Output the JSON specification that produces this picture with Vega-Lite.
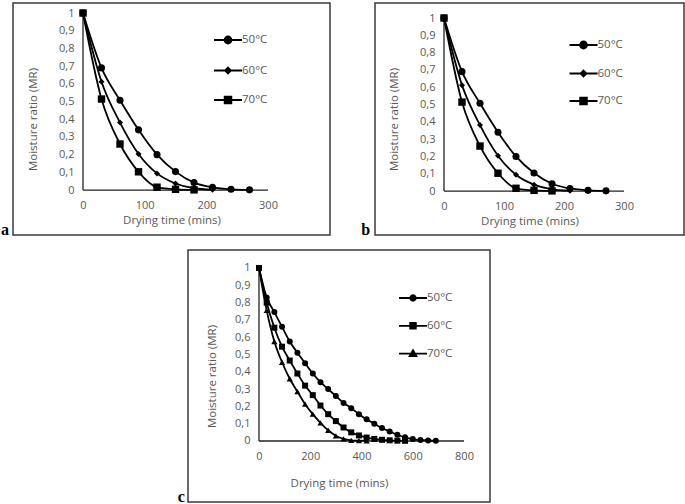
{
  "$schema": "https://vega.github.io/schema/vega-lite/v6.json",
  "padding": {"left": 0, "top": 2, "right": 0, "bottom": 0},
  "background": "white",
  "config": {
    "view": {"stroke": "#3a3a3a", "strokeWidth": 1.5},
    "axis": {"grid": false, "domain": false, "ticks": false, "tickSize": 0, "labelFont": "Open Sans", "labelFontSize": 11, "labelColor": "#595959", "titleFont": "Open Sans", "titleFontSize": 11.5, "titleFontWeight": "normal", "titleColor": "#595959", "labelFlush": false, "labelOverlap": false, "labelBound": false},
    "legend": {"labelFont": "Open Sans", "labelFontSize": 11.5, "labelColor": "#595959", "padding": 0, "symbolStrokeWidth": 1.8}
  },
  "datasets": {
    "ab": [
      {"t": 0, "mr": 1, "temp": "50°C"}, {"t": 30, "mr": 0.69, "temp": "50°C"}, {"t": 60, "mr": 0.507, "temp": "50°C"}, {"t": 90, "mr": 0.34, "temp": "50°C"}, {"t": 120, "mr": 0.2, "temp": "50°C"}, {"t": 150, "mr": 0.104, "temp": "50°C"}, {"t": 180, "mr": 0.042, "temp": "50°C"}, {"t": 210, "mr": 0.015, "temp": "50°C"}, {"t": 240, "mr": 0.004, "temp": "50°C"}, {"t": 270, "mr": 0.001, "temp": "50°C"},
      {"t": 0, "mr": 1, "temp": "60°C"}, {"t": 30, "mr": 0.612, "temp": "60°C"}, {"t": 60, "mr": 0.381, "temp": "60°C"}, {"t": 90, "mr": 0.204, "temp": "60°C"}, {"t": 120, "mr": 0.094, "temp": "60°C"}, {"t": 150, "mr": 0.037, "temp": "60°C"}, {"t": 180, "mr": 0.01, "temp": "60°C"}, {"t": 210, "mr": 0.002, "temp": "60°C"},
      {"t": 0, "mr": 1, "temp": "70°C"}, {"t": 30, "mr": 0.514, "temp": "70°C"}, {"t": 60, "mr": 0.26, "temp": "70°C"}, {"t": 90, "mr": 0.103, "temp": "70°C"}, {"t": 120, "mr": 0.016, "temp": "70°C"}, {"t": 150, "mr": 0.004, "temp": "70°C"}, {"t": 180, "mr": 0.001, "temp": "70°C"}
    ],
    "c": [
      {"t": 0, "mr": 1, "temp": "50°C"}, {"t": 30, "mr": 0.83, "temp": "50°C"}, {"t": 60, "mr": 0.745, "temp": "50°C"}, {"t": 90, "mr": 0.66, "temp": "50°C"}, {"t": 120, "mr": 0.575, "temp": "50°C"}, {"t": 150, "mr": 0.51, "temp": "50°C"}, {"t": 180, "mr": 0.45, "temp": "50°C"}, {"t": 210, "mr": 0.39, "temp": "50°C"}, {"t": 240, "mr": 0.34, "temp": "50°C"}, {"t": 270, "mr": 0.3, "temp": "50°C"}, {"t": 300, "mr": 0.26, "temp": "50°C"}, {"t": 330, "mr": 0.22, "temp": "50°C"}, {"t": 360, "mr": 0.19, "temp": "50°C"}, {"t": 390, "mr": 0.155, "temp": "50°C"}, {"t": 420, "mr": 0.125, "temp": "50°C"}, {"t": 450, "mr": 0.1, "temp": "50°C"}, {"t": 480, "mr": 0.075, "temp": "50°C"}, {"t": 510, "mr": 0.055, "temp": "50°C"}, {"t": 540, "mr": 0.036, "temp": "50°C"}, {"t": 570, "mr": 0.021, "temp": "50°C"}, {"t": 600, "mr": 0.011, "temp": "50°C"}, {"t": 630, "mr": 0.006, "temp": "50°C"}, {"t": 660, "mr": 0.003, "temp": "50°C"}, {"t": 690, "mr": 0.001, "temp": "50°C"},
      {"t": 0, "mr": 1, "temp": "60°C"}, {"t": 30, "mr": 0.8, "temp": "60°C"}, {"t": 60, "mr": 0.655, "temp": "60°C"}, {"t": 90, "mr": 0.545, "temp": "60°C"}, {"t": 120, "mr": 0.465, "temp": "60°C"}, {"t": 150, "mr": 0.39, "temp": "60°C"}, {"t": 180, "mr": 0.32, "temp": "60°C"}, {"t": 210, "mr": 0.265, "temp": "60°C"}, {"t": 240, "mr": 0.205, "temp": "60°C"}, {"t": 270, "mr": 0.155, "temp": "60°C"}, {"t": 300, "mr": 0.115, "temp": "60°C"}, {"t": 330, "mr": 0.078, "temp": "60°C"}, {"t": 360, "mr": 0.05, "temp": "60°C"}, {"t": 390, "mr": 0.032, "temp": "60°C"}, {"t": 420, "mr": 0.02, "temp": "60°C"}, {"t": 450, "mr": 0.012, "temp": "60°C"}, {"t": 480, "mr": 0.007, "temp": "60°C"}, {"t": 510, "mr": 0.004, "temp": "60°C"}, {"t": 540, "mr": 0.002, "temp": "60°C"}, {"t": 570, "mr": 0.001, "temp": "60°C"},
      {"t": 0, "mr": 1, "temp": "70°C"}, {"t": 30, "mr": 0.755, "temp": "70°C"}, {"t": 60, "mr": 0.575, "temp": "70°C"}, {"t": 90, "mr": 0.455, "temp": "70°C"}, {"t": 120, "mr": 0.36, "temp": "70°C"}, {"t": 150, "mr": 0.285, "temp": "70°C"}, {"t": 180, "mr": 0.213, "temp": "70°C"}, {"t": 210, "mr": 0.155, "temp": "70°C"}, {"t": 240, "mr": 0.105, "temp": "70°C"}, {"t": 270, "mr": 0.062, "temp": "70°C"}, {"t": 300, "mr": 0.03, "temp": "70°C"}, {"t": 330, "mr": 0.012, "temp": "70°C"}, {"t": 360, "mr": 0.004, "temp": "70°C"}, {"t": 390, "mr": 0.002, "temp": "70°C"}, {"t": 420, "mr": 0.001, "temp": "70°C"}
    ]
  },
  "spacing": 10,
  "resolve": {"scale": {"x": "independent", "y": "independent", "shape": "independent"}, "legend": {"shape": "independent"}},
  "vconcat": [
    {
      "hconcat": [
        {
          "width": 317, "height": 232,
          "data": {"name": "ab"},
          "title": {"text": "a", "orient": "left", "anchor": "start", "frame": "group", "angle": 0, "align": "right", "baseline": "alphabetic", "font": "Liberation Serif", "fontWeight": "bold", "fontSize": 16, "color": "black", "offset": -4},
          "layer": [
            {"data": {"values": [{}]}, "mark": {"type": "rule", "color": "#222", "strokeWidth": 1.3}, "encoding": {"x": {"datum": 0, "type": "quantitative", "scale": {"domain": [-113.5, 400.5], "nice": false, "zero": false}, "axis": {"values": [0, 100, 200, 300], "tickCount": 10, "offset": -45, "labelPadding": 9, "labelOverlap": false, "title": "Drying time (mins)", "titlePadding": 4}}, "y": {"datum": 0, "type": "quantitative", "scale": {"domain": [-0.254, 1.0565], "nice": false, "zero": false}, "axis": {"values": [0, 0.1, 0.2, 0.3, 0.4, 0.5, 0.6, 0.7, 0.8, 0.9, 1], "tickCount": 20, "offset": -70, "labelPadding": 9, "labelOverlap": false, "labelExpr": "replace(format(datum.value, '.1~f'), '.', ',')", "title": "Moisture ratio (MR)", "titlePadding": 20}}, "y2": {"datum": 1}}},
            {"data": {"values": [{}]}, "mark": {"type": "rule", "color": "#222", "strokeWidth": 1.3}, "encoding": {"y": {"datum": 0, "type": "quantitative"}, "x": {"datum": 0, "type": "quantitative"}, "x2": {"datum": 300}}},
            {"mark": {"type": "line", "interpolate": "monotone", "color": "black", "strokeWidth": 1.8}, "encoding": {"x": {"field": "t", "type": "quantitative"}, "y": {"field": "mr", "type": "quantitative"}, "detail": {"field": "temp"}}},
            {"transform": [{"filter": "datum.temp == '50°C'"}], "mark": {"type": "point", "shape": "circle", "filled": true, "color": "black", "opacity": 1, "size": 50}, "encoding": {"x": {"field": "t", "type": "quantitative"}, "y": {"field": "mr", "type": "quantitative"}}},
            {"transform": [{"filter": "datum.temp == '60°C'"}], "mark": {"type": "point", "shape": "diamond", "filled": true, "color": "black", "opacity": 1, "size": 36}, "encoding": {"x": {"field": "t", "type": "quantitative"}, "y": {"field": "mr", "type": "quantitative"}}},
            {"transform": [{"filter": "datum.temp == '70°C'"}], "mark": {"type": "point", "shape": "square", "filled": true, "color": "black", "opacity": 1, "size": 55}, "encoding": {"x": {"field": "t", "type": "quantitative"}, "y": {"field": "mr", "type": "quantitative"}}},
            {"data": {"values": []}, "mark": {"type": "point", "filled": false, "fill": "black", "stroke": "black", "strokeWidth": 1.8, "opacity": 1, "fillOpacity": 1, "strokeOpacity": 1}, "encoding": {"x": {"field": "t", "type": "quantitative"}, "y": {"field": "mr", "type": "quantitative"},
              "shape": {"field": "temp", "type": "nominal", "scale": {"domain": ["50°C", "60°C", "70°C"], "range": ["M-1,0H1M0.25,0A0.25,0.25,0,1,1,-0.25,0A0.25,0.25,0,1,1,0.25,0Z", "M-1,0H1M0,-0.21L0.21,0L0,0.21L-0.21,0Z", "M-1,0H1M-0.24,-0.24H0.24V0.24H-0.24Z"]},
                "legend": {"title": null, "orient": "none", "legendX": 200, "legendY": 22, "direction": "vertical", "symbolSize": 784, "rowPadding": 7.5, "labelOffset": -1, "symbolStrokeWidth": 1.8, "symbolOpacity": 1,
                  "encode": {"symbols": {"update": {"stroke": {"value": "black"}, "fill": {"value": "black"}, "strokeWidth": {"value": 1.8}}}}}}}}
          ]
        },
        {
          "width": 309, "height": 232,
          "data": {"name": "ab"},
          "title": {"text": "b", "orient": "left", "anchor": "start", "frame": "group", "angle": 0, "align": "right", "baseline": "alphabetic", "font": "Liberation Serif", "fontWeight": "bold", "fontSize": 16, "color": "black", "offset": -4},
          "layer": [
            {"data": {"values": [{}]}, "mark": {"type": "rule", "color": "#222", "strokeWidth": 1.3}, "encoding": {"x": {"datum": 0, "type": "quantitative", "scale": {"domain": [-115, 400], "nice": false, "zero": false}, "axis": {"values": [0, 100, 200, 300], "tickCount": 10, "offset": -44, "labelPadding": 9, "labelOverlap": false, "title": "Drying time (mins)", "titlePadding": 4}}, "y": {"datum": 0, "type": "quantitative", "scale": {"domain": [-0.254, 1.0867], "nice": false, "zero": false}, "axis": {"values": [0, 0.1, 0.2, 0.3, 0.4, 0.5, 0.6, 0.7, 0.8, 0.9, 1], "tickCount": 20, "offset": -69, "labelPadding": 9, "labelOverlap": false, "labelExpr": "replace(format(datum.value, '.1~f'), '.', ',')", "title": "Moisture ratio (MR)", "titlePadding": 20}}, "y2": {"datum": 1}}},
            {"data": {"values": [{}]}, "mark": {"type": "rule", "color": "#222", "strokeWidth": 1.3}, "encoding": {"y": {"datum": 0, "type": "quantitative"}, "x": {"datum": 0, "type": "quantitative"}, "x2": {"datum": 300}}},
            {"mark": {"type": "line", "interpolate": "monotone", "color": "black", "strokeWidth": 1.8}, "encoding": {"x": {"field": "t", "type": "quantitative"}, "y": {"field": "mr", "type": "quantitative"}, "detail": {"field": "temp"}}},
            {"transform": [{"filter": "datum.temp == '50°C'"}], "mark": {"type": "point", "shape": "circle", "filled": true, "color": "black", "opacity": 1, "size": 50}, "encoding": {"x": {"field": "t", "type": "quantitative"}, "y": {"field": "mr", "type": "quantitative"}}},
            {"transform": [{"filter": "datum.temp == '60°C'"}], "mark": {"type": "point", "shape": "diamond", "filled": true, "color": "black", "opacity": 1, "size": 36}, "encoding": {"x": {"field": "t", "type": "quantitative"}, "y": {"field": "mr", "type": "quantitative"}}},
            {"transform": [{"filter": "datum.temp == '70°C'"}], "mark": {"type": "point", "shape": "square", "filled": true, "color": "black", "opacity": 1, "size": 55}, "encoding": {"x": {"field": "t", "type": "quantitative"}, "y": {"field": "mr", "type": "quantitative"}}},
            {"data": {"values": []}, "mark": {"type": "point", "filled": false, "fill": "black", "stroke": "black", "strokeWidth": 1.8, "opacity": 1, "fillOpacity": 1, "strokeOpacity": 1}, "encoding": {"x": {"field": "t", "type": "quantitative"}, "y": {"field": "mr", "type": "quantitative"},
              "shape": {"field": "temp", "type": "nominal", "scale": {"domain": ["50°C", "60°C", "70°C"], "range": ["M-1,0H1M0.25,0A0.25,0.25,0,1,1,-0.25,0A0.25,0.25,0,1,1,0.25,0Z", "M-1,0H1M0,-0.21L0.21,0L0,0.21L-0.21,0Z", "M-1,0H1M-0.24,-0.24H0.24V0.24H-0.24Z"]},
                "legend": {"title": null, "orient": "none", "legendX": 193.5, "legendY": 27, "direction": "vertical", "symbolSize": 784, "rowPadding": 5.5, "labelOffset": -1, "symbolStrokeWidth": 1.8, "symbolOpacity": 1,
                  "encode": {"symbols": {"update": {"stroke": {"value": "black"}, "fill": {"value": "black"}, "strokeWidth": {"value": 1.8}}}}}}}}
          ]
        }
      ],
      "spacing": 29,
      "resolve": {"scale": {"x": "independent", "y": "independent", "shape": "independent"}, "legend": {"shape": "independent"}}
    },
    {
      "hconcat": [
        {"width": 164, "height": 10, "data": {"values": []}, "mark": {"type": "point", "opacity": 0}, "encoding": {}, "view": {"stroke": null}},
        {
          "width": 302, "height": 252,
          "data": {"name": "c"},
          "title": {"text": "c", "orient": "left", "anchor": "start", "frame": "group", "angle": 0, "align": "right", "baseline": "alphabetic", "font": "Liberation Serif", "fontWeight": "bold", "fontSize": 16, "color": "black", "offset": -4},
          "layer": [
            {"data": {"values": [{}]}, "mark": {"type": "rule", "color": "#222", "strokeWidth": 1.3}, "encoding": {"x": {"datum": 0, "type": "quantitative", "scale": {"domain": [-277, 901.5], "nice": false, "zero": false}, "axis": {"values": [0, 200, 400, 600, 800], "tickCount": 10, "offset": -61, "labelPadding": 9, "labelOverlap": false, "title": "Drying time (mins)", "titlePadding": 16}}, "y": {"datum": 0, "type": "quantitative", "scale": {"domain": [-0.3526, 1.104], "nice": false, "zero": false}, "axis": {"values": [0, 0.1, 0.2, 0.3, 0.4, 0.5, 0.6, 0.7, 0.8, 0.9, 1], "tickCount": 20, "offset": -71, "labelPadding": 9, "labelOverlap": false, "labelExpr": "replace(format(datum.value, '.1~f'), '.', ',')", "title": "Moisture ratio (MR)", "titlePadding": 17}}, "y2": {"datum": 1}}},
            {"data": {"values": [{}]}, "mark": {"type": "rule", "color": "#222", "strokeWidth": 1.3}, "encoding": {"y": {"datum": 0, "type": "quantitative"}, "x": {"datum": 0, "type": "quantitative"}, "x2": {"datum": 800}}},
            {"mark": {"type": "line", "interpolate": "monotone", "color": "black", "strokeWidth": 1.8}, "encoding": {"x": {"field": "t", "type": "quantitative"}, "y": {"field": "mr", "type": "quantitative"}, "detail": {"field": "temp"}}},
            {"transform": [{"filter": "datum.temp == '50°C'"}], "mark": {"type": "point", "shape": "circle", "filled": true, "color": "black", "opacity": 1, "size": 36}, "encoding": {"x": {"field": "t", "type": "quantitative"}, "y": {"field": "mr", "type": "quantitative"}}},
            {"transform": [{"filter": "datum.temp == '60°C'"}], "mark": {"type": "point", "shape": "square", "filled": true, "color": "black", "opacity": 1, "size": 36}, "encoding": {"x": {"field": "t", "type": "quantitative"}, "y": {"field": "mr", "type": "quantitative"}}},
            {"transform": [{"filter": "datum.temp == '70°C'"}], "mark": {"type": "point", "shape": "triangle-up", "filled": true, "color": "black", "opacity": 1, "size": 38}, "encoding": {"x": {"field": "t", "type": "quantitative"}, "y": {"field": "mr", "type": "quantitative"}}},
            {"data": {"values": []}, "mark": {"type": "point", "filled": false, "fill": "black", "stroke": "black", "strokeWidth": 1.8, "opacity": 1, "fillOpacity": 1, "strokeOpacity": 1}, "encoding": {"x": {"field": "t", "type": "quantitative"}, "y": {"field": "mr", "type": "quantitative"},
              "shape": {"field": "temp", "type": "nominal", "scale": {"domain": ["50°C", "60°C", "70°C"], "range": ["M-1,0H1M0.2,0A0.2,0.2,0,1,1,-0.2,0A0.2,0.2,0,1,1,0.2,0Z", "M-1,0H1M-0.2,-0.2H0.2V0.2H-0.2Z", "M-1,0H1M0,-0.24L0.24,0.17L-0.24,0.17Z"]},
                "legend": {"title": null, "orient": "none", "legendX": 210, "legendY": 33, "direction": "vertical", "symbolSize": 784, "rowPadding": 5.8, "labelOffset": -1, "symbolStrokeWidth": 1.8, "symbolOpacity": 1,
                  "encode": {"symbols": {"update": {"stroke": {"value": "black"}, "fill": {"value": "black"}, "strokeWidth": {"value": 1.8}}}}}}}}
          ]
        }
      ],
      "spacing": 0,
      "resolve": {"scale": {"x": "independent", "y": "independent", "shape": "independent"}, "legend": {"shape": "independent"}}
    }
  ]
}
